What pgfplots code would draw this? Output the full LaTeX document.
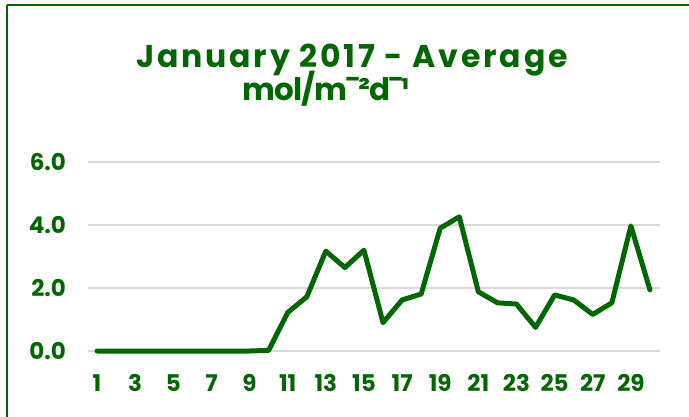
\documentclass[border=0pt]{standalone}
\usepackage{pgfplots}
\pgfplotsset{compat=1.18}
\usepackage{fontspec}
\setmainfont{Poppins}
\definecolor{dg}{RGB}{0,102,0}
\definecolor{gridc}{RGB}{217,217,217}
\begin{document}
\begin{tikzpicture}[x=1pt,y=1pt]
\draw[dg, line width=2pt] (7,411) -- (7,-20);
\draw[dg, line width=2pt] (7,411) -- (700,411);
\node[anchor=base, font=\fontsize{31.5}{34}\selectfont\bfseries\addfontfeatures{LetterSpace=9}, text=dg] at (352,348) {January 2017 - Average};
\node[anchor=base, font=\fontsize{31}{34}\selectfont\bfseries\addfontfeatures{LetterSpace=-3}, text=dg] at (326,315) {mol/m¯²d¯¹};
\begin{axis}[
  at={(87.5pt,65pt)}, anchor=south west,
  width=572pt, height=189pt, scale only axis,
  xmin=0.5, xmax=30.5, ymin=0, ymax=6,
  axis line style={draw=none},
  ymajorgrids, grid style={gridc, line width=1.5pt},
  ytick={0,2,4,6},
  xtick={1,3,...,29},
  tick style={draw=none},
  clip=false,
  /pgf/number format/assume math mode=true,
  yticklabel style={/pgf/number format/fixed, /pgf/number format/fixed zerofill, /pgf/number format/precision=1, xshift=-18pt},
  ticklabel style={font=\fontsize{23}{26}\selectfont\bfseries, text=dg},
  xticklabel style={yshift=-20pt},
]
\addplot[dg, line width=5pt, line join=round, line cap=round] coordinates {
(1,0) (2,0) (3,0) (4,0) (5,0) (6,0) (7,0) (8,0) (9,0) (10,0.02)
(11,1.22) (12,1.72) (13,3.17) (14,2.65) (15,3.2) (16,0.9) (17,1.62) (18,1.81)
(19,3.9) (20,4.26) (21,1.88) (22,1.53) (23,1.49) (24,0.75) (25,1.78) (26,1.62)
(27,1.16) (28,1.53) (29,3.97) (30,1.94)
};
\end{axis}
\pgfresetboundingbox
\useasboundingbox (0,0) rectangle (689,416);
\end{tikzpicture}
\end{document}
